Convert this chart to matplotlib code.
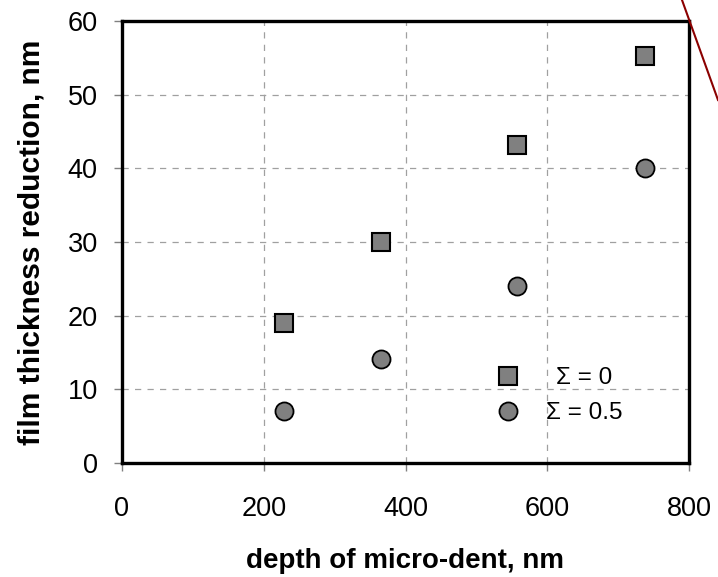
import matplotlib
matplotlib.use("Agg")
import matplotlib.pyplot as plt
from matplotlib.lines import Line2D

plt.rcParams['font.family'] = ['Liberation Sans', 'DejaVu Sans']

depth = [228, 366, 558, 738]
sigma0 = [19.0, 30.0, 43.2, 55.2]
sigma05 = [7.1, 14.1, 24.0, 40.1]
xticks = [0, 200, 400, 600, 800]
yticks = [0, 10, 20, 30, 40, 50, 60]

fig = plt.figure(figsize=(7.18, 5.77), dpi=100)
ax = fig.add_axes([122/718, 1-463/577, (689-122)/718, (463-21)/577])

h0, = ax.plot(depth, sigma0, linestyle='none', marker='s', markersize=13,
              markerfacecolor='#808080', markeredgecolor='black', markeredgewidth=1.5,
              label='Σ = 0', clip_on=False, zorder=5)
h1, = ax.plot(depth, sigma05, linestyle='none', marker='o', markersize=13,
              markerfacecolor='#808080', markeredgecolor='black', markeredgewidth=1.3,
              label='Σ = 0.5', clip_on=False, zorder=5)

ax.set_xlim(0, 800)
ax.set_ylim(0, 60)
ax.set_xticks(xticks)
ax.set_yticks(yticks)
ax.grid(True, color='#a0a0a0', linestyle=(0, (5, 5)), linewidth=0.9)
ax.set_axisbelow(True)
for s in ax.spines.values():
    s.set_linewidth(2.4)
    s.set_color('black')
ax.tick_params(axis='both', direction='out', length=6, width=1, color='#808080',
               labelsize=19.5)
ax.tick_params(axis='y', pad=11.5)
ax.tick_params(axis='x', pad=18)

ax.set_xlabel('depth of micro-dent, nm', fontsize=20, fontweight='bold', labelpad=18.5)
ax.set_ylabel('film thickness reduction, nm', fontsize=21.5, fontweight='bold', labelpad=15.5)

common = dict(frameon=False, fontsize=17.5, handlelength=1.0, borderpad=0,
              borderaxespad=0, loc='center left')
leg0 = ax.legend(handles=[h0], bbox_to_anchor=(0.660, 0.192), handletextpad=1.45, **common)
ax.add_artist(leg0)
leg1 = ax.legend(handles=[h1], bbox_to_anchor=(0.660, 0.113), handletextpad=1.03, **common)

fig.add_artist(Line2D([682/718, 718/718], [1.0, 1-100/577], color='#8b0000', linewidth=1.5))

fig.savefig('out.png', dpi=100)
